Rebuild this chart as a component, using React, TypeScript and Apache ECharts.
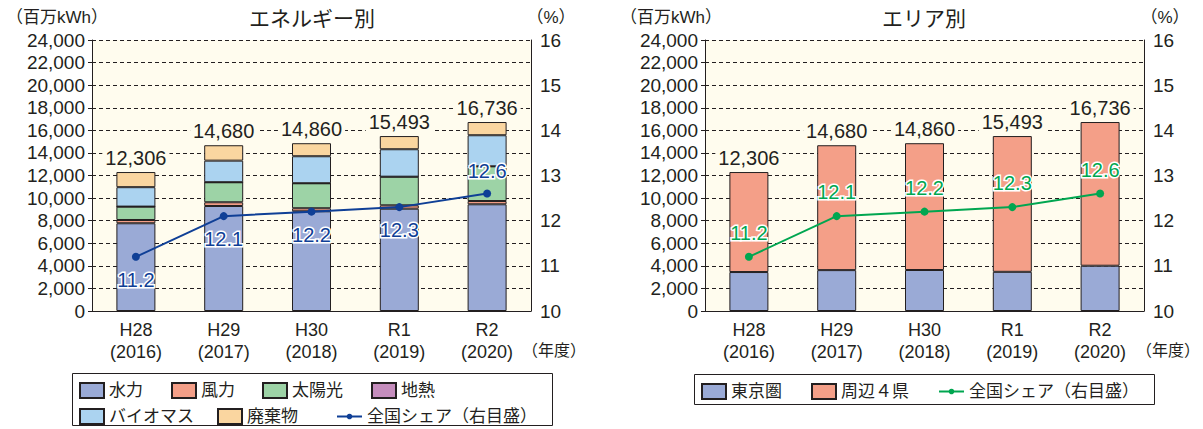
import React, { useEffect, useRef } from "react";
import * as echarts from "echarts";

const eras = ["H28", "H29", "H30", "R1", "R2"];
const years = ["2016", "2017", "2018", "2019", "2020"];
const hydro = [7770, 9300, 8830, 9060, 9450];
const wind = [290, 330, 270, 300, 290];
const solar = [1180, 1770, 2210, 2530, 3070];
const geothermal = [5, 5, 5, 5, 5];
const biomass = [1720, 1910, 2390, 2430, 2750];
const waste = [1341, 1365, 1155, 1168, 1171];
const totals = [12306, 14680, 14860, 15493, 16736];
const share = [11.2, 12.1, 12.2, 12.3, 12.6];
const tokyo = [3450, 3620, 3630, 3470, 4010];
const surrounding = [8856, 11060, 11230, 12023, 12726];
const leftYTicks = { min: 0, max: 24000, interval: 2000 };
const rightYTicks = { min: 10, max: 16, interval: 1 };

const FONT = '"Liberation Sans", "Noto Sans CJK JP", sans-serif';
const INK = "#231f20";
const BG = "#fffcee";
const C = {
  hydro: "#9aaad6",
  wind: "#f49f88",
  solar: "#9dd3a6",
  geo: "#c58dbd",
  bio: "#abd3f0",
  waste: "#fad6a0",
  blue: "#0f3f96",
  green: "#00a650",
};

export default function App() {
  const ref = useRef<HTMLDivElement>(null);
  useEffect(() => {
    if (!ref.current) return;
    const chart = echarts.init(ref.current, null, { renderer: "svg" });
    const cats = eras.map((e, i) => `${e}\n(${years[i]})`);
    const grids = [
      { left: 92, top: 40, width: 439, height: 271 },
      { left: 705, top: 40, width: 439, height: 271 },
    ];
    const xAxis = grids.map((_, gi) => ({
      type: "category",
      gridIndex: gi,
      data: cats,
      axisLine: { lineStyle: { color: INK, width: 1 } },
      axisTick: { inside: true, length: 6, lineStyle: { color: INK } },
      axisLabel: { color: INK, fontSize: 18, fontFamily: FONT, lineHeight: 22, margin: 8 },
    }));
    const leftY = (gi: number) => ({
      type: "value",
      gridIndex: gi,
      ...leftYTicks,
      axisLine: { show: true, lineStyle: { color: INK } },
      axisTick: { show: true, length: 4, lineStyle: { color: INK } },
      axisLabel: {
        color: INK,
        fontSize: 19,
        fontFamily: FONT,
        margin: 7,
        formatter: (v: number) => v.toLocaleString("en-US"),
      },
      splitLine: { show: true, lineStyle: { color: INK, type: [4, 3], width: 1 } },
    });
    const rightY = (gi: number) => ({
      type: "value",
      gridIndex: gi,
      position: "right",
      ...rightYTicks,
      axisLine: { show: true, lineStyle: { color: INK } },
      axisTick: { show: false },
      axisLabel: { color: INK, fontSize: 19, fontFamily: FONT, margin: 9 },
      splitLine: { show: false },
    });
    const barItem = (color: string) => ({ color, borderColor: INK, borderWidth: 1 });
    const totalLabel = {
      show: true,
      position: "top",
      distance: 4,
      fontSize: 20,
      fontFamily: FONT,
      color: INK,
      backgroundColor: BG,
      padding: [0, 3],
      formatter: (p: any) => totals[p.dataIndex].toLocaleString("en-US"),
    };
    const leftLabelPos = ["bottom", "bottom", "bottom", "bottom", "top"];
    const bar = (name: string, data: number[], color: string, xi: number, yi: number, stack: string, label?: any) => ({
      type: "bar",
      name,
      data,
      xAxisIndex: xi,
      yAxisIndex: yi,
      stack,
      barWidth: 39,
      itemStyle: barItem(color),
      label: label || { show: false },
      emphasis: { disabled: true },
    });
    const legendText = { fontSize: 17, fontFamily: FONT, color: INK };
    const legendAt = (name: string, left: number, top: number) => ({
      data: [name],
      left,
      top,
      padding: 0,
      icon: "rect",
      itemWidth: 24,
      itemHeight: 15,
      textStyle: legendText,
      selectedMode: false,
    });
    const lineLegendAt = (name: string, left: number, top: number, formatter?: string) => ({
      data: [name],
      left,
      top,
      padding: 0,
      itemWidth: 25,
      itemHeight: 7,
      textStyle: legendText,
      selectedMode: false,
      ...(formatter ? { formatter } : {}),
    });
    const option: any = {
      animation: false,
      backgroundColor: "#ffffff",
      grid: grids.map((g) => ({ ...g, show: true, backgroundColor: BG, borderWidth: 0 })),
      xAxis,
      yAxis: [leftY(0), rightY(0), leftY(1), rightY(1)],
      legend: [
        legendAt("水力", 79, 382),
        legendAt("風力", 171, 382),
        legendAt("太陽光", 262, 382),
        legendAt("地熱", 371, 382),
        legendAt("バイオマス", 79, 408),
        legendAt("廃棄物", 217, 408),
        lineLegendAt("全国シェア（右目盛）", 336, 408),
        legendAt("東京圏", 701, 383),
        legendAt("周辺４県", 811, 383),
        lineLegendAt("share2", 938, 383, "全国シェア（右目盛）"),
      ],
      series: [
        bar("水力", hydro, C.hydro, 0, 0, "e"),
        bar("風力", wind, C.wind, 0, 0, "e"),
        bar("太陽光", solar, C.solar, 0, 0, "e"),
        bar("地熱", geothermal, C.geo, 0, 0, "e"),
        bar("バイオマス", biomass, C.bio, 0, 0, "e"),
        bar("廃棄物", waste, C.waste, 0, 0, "e", totalLabel),
        {
          type: "line",
          name: "全国シェア（右目盛）",
          xAxisIndex: 0,
          yAxisIndex: 1,
          data: share.map((v, i) => ({ value: v, label: { position: leftLabelPos[i] } })),
          symbol: "circle",
          symbolSize: 8,
          lineStyle: { color: C.blue, width: 2 },
          itemStyle: { color: C.blue },
          label: {
            show: true,
            distance: 9,
            fontSize: 20,
            fontFamily: FONT,
            color: C.blue,
            textBorderColor: "#ffffff",
            textBorderWidth: 3,
            formatter: (p: any) => p.value.toFixed(1),
          },
          emphasis: { disabled: true },
          z: 5,
        },
        bar("東京圏", tokyo, C.hydro, 1, 2, "a"),
        bar("周辺４県", surrounding, C.wind, 1, 2, "a", totalLabel),
        {
          type: "line",
          name: "share2",
          xAxisIndex: 1,
          yAxisIndex: 3,
          data: share,
          symbol: "circle",
          symbolSize: 8,
          lineStyle: { color: C.green, width: 2 },
          itemStyle: { color: C.green },
          label: {
            show: true,
            position: "top",
            distance: 10,
            fontSize: 20,
            fontFamily: FONT,
            color: C.green,
            textBorderColor: "#ffffff",
            textBorderWidth: 3,
            formatter: (p: any) => p.value.toFixed(1),
          },
          emphasis: { disabled: true },
          z: 5,
        },
      ],
      graphic: [
        { type: "rect", shape: { x: 72.5, y: 373.5, width: 480, height: 52 }, style: { fill: "none", stroke: INK, lineWidth: 1 } },
        { type: "rect", shape: { x: 694.5, y: 374.5, width: 460, height: 30 }, style: { fill: "none", stroke: INK, lineWidth: 1 } },
        { type: "text", x: 312, y: 18, style: { text: "エネルギー別", fontSize: 21, fontFamily: FONT, fill: INK, textAlign: "center", textVerticalAlign: "middle" } },
        { type: "text", x: 924, y: 18, style: { text: "エリア別", fontSize: 21, fontFamily: FONT, fill: INK, textAlign: "center", textVerticalAlign: "middle" } },
        { type: "text", x: 6, y: 17, style: { text: "（百万kWh）", fontSize: 17, fontFamily: FONT, fill: INK, textAlign: "left", textVerticalAlign: "middle" } },
        { type: "text", x: 620, y: 17, style: { text: "（百万kWh）", fontSize: 17, fontFamily: FONT, fill: INK, textAlign: "left", textVerticalAlign: "middle" } },
        { type: "text", x: 551, y: 17, style: { text: "（%）", fontSize: 17, fontFamily: FONT, fill: INK, textAlign: "center", textVerticalAlign: "middle" } },
        { type: "text", x: 1165, y: 17, style: { text: "（%）", fontSize: 17, fontFamily: FONT, fill: INK, textAlign: "center", textVerticalAlign: "middle" } },
        { type: "text", x: 554, y: 350, style: { text: "（年度）", fontSize: 16, fontFamily: FONT, fill: INK, textAlign: "center", textVerticalAlign: "middle" } },
        { type: "text", x: 1168, y: 350, style: { text: "（年度）", fontSize: 16, fontFamily: FONT, fill: INK, textAlign: "center", textVerticalAlign: "middle" } },
      ],
    };
    chart.setOption(option);
    return () => chart.dispose();
  }, []);
  return (
    <div
      ref={ref}
      style={{ position: "fixed", left: 0, top: 0, width: 1203, height: 429, background: "#fff" }}
    />
  );
}
